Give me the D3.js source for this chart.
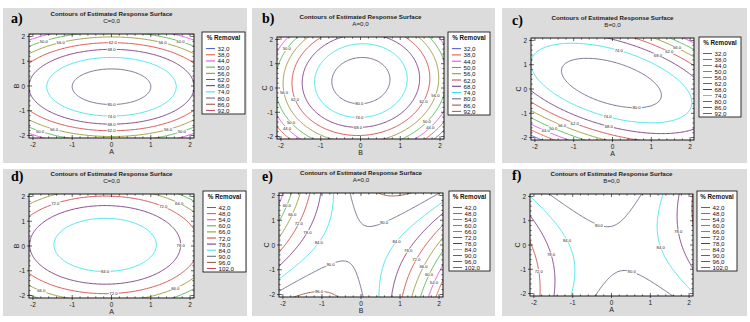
<!DOCTYPE html>
<html><head><meta charset="utf-8">
<script src="https://cdn.jsdelivr.net/npm/d3@7"></script>
<style>body{margin:0;background:#fff}svg{display:block}</style>
</head><body>
<svg id="chart" width="750" height="322"></svg>
<script>
// ---------- data ----------
const panelLetters = ['a)', 'b)', 'c)', 'd)', 'e)', 'f)'];
const chartTitle = 'Contours of Estimated Response Surface';
const subtitles = ['C=0,0', 'A=0,0', 'B=0,0', 'C=0,0', 'A=0,0', 'B=0,0'];
const xAxisNames = ['A', 'B', 'A', 'A', 'B', 'A'];
const yAxisNames = ['B', 'C', 'C', 'B', 'C', 'C'];
const tickValues = [-2, -1, 0, 1, 2];
const legendTitle = '% Removal';
const levelsSet1 = [32, 38, 44, 50, 56, 62, 68, 74, 80, 86, 92];
const levelsSet2 = [42, 48, 54, 60, 66, 72, 78, 84, 90, 96, 102];
// estimated response-surface coefficients: [b0, bx, by, bxx, byy, bxy]
const surfA = [83.5, 0.0, -0.4, -3.5, -6.8, 0.0];
const surfB = [83.5, 0.0, 2.6, -7.3, -4.3, 0.5];
const surfC = [83.5, 0.75, 2.25, -3.0, -4.8, -3.74];
const surfD = [89.0, -0.97, 0.4, -3.0, -4.4, 0.0];
const surfE = [89.0, -1.52, 0.54, -5.27, 0.64, 5.06];
const surfF = [89.0, 0.6, 0.51, -3.7, 1.03, -1.75];

// ---------- styles / layout ----------
const levelColors = ['#4a5ac8', '#e05030', '#e040e0', '#40b040', '#909020', '#d03838',
                     '#702878', '#30e0e8', '#606080', '#905030', '#c04060'];
const surfaces = [surfA, surfB, surfC, surfD, surfE, surfF];
const levelSets = [levelsSet1, levelsSet1, levelsSet1, levelsSet2, levelsSet2, levelsSet2];
const layout = [
  {bg: [3, 8, 247, 163],   frame: [29, 34, 194, 138],  legend: [202, 32, 245, 114], letter: [11, 23]},
  {bg: [252, 8, 495, 163], frame: [277, 37, 444, 139], legend: [448, 32, 490, 115], letter: [262, 23]},
  {bg: [502, 8, 747, 163], frame: [531, 38, 694, 140], legend: [699, 37, 741, 117], letter: [512, 25]},
  {bg: [3, 169, 247, 316], frame: [29, 194, 194, 298], legend: [203, 191, 246, 272], letter: [11, 181]},
  {bg: [252, 169, 495, 316], frame: [279, 193, 443, 297], legend: [449, 191, 490, 271], letter: [262, 181]},
  {bg: [502, 169, 747, 316], frame: [530, 194, 693, 296], legend: [697, 191, 737, 271], letter: [512, 180]}
];
const axisDomain = [-2.1, 2.1];
const FONT = '"Liberation Sans", Arial, sans-serif';

const svg = d3.select('#chart');
const fmtLegend = v => v.toFixed(1).replace('.', ',');
const fmtLabel = v => v.toFixed(1);

const N = 161, ext = [-2.6, 2.6];
const step = (ext[1] - ext[0]) / (N - 1);
const evalSurf = (c, u, v) => c[0] + c[1]*u + c[2]*v + c[3]*u*u + c[4]*v*v + c[5]*u*v;

layout.forEach((L, k) => {
  const g = svg.append('g');
  const [bx0, by0, bx1, by1] = L.bg;
  g.append('rect').attr('x', bx0).attr('y', by0).attr('width', bx1 - bx0).attr('height', by1 - by0)
    .attr('fill', '#dcdcdc');
  const [fx0, fy0, fx1, fy1] = L.frame;
  const x = d3.scaleLinear().domain(axisDomain).range([fx0, fx1]);
  const y = d3.scaleLinear().domain(axisDomain).range([fy1, fy0]);
  g.append('rect').attr('x', fx0).attr('y', fy0).attr('width', fx1 - fx0).attr('height', fy1 - fy0)
    .attr('fill', '#fff');

  const clipId = 'clip' + k;
  g.append('clipPath').attr('id', clipId).append('rect')
    .attr('x', fx0).attr('y', fy0).attr('width', fx1 - fx0).attr('height', fy1 - fy0);

  const coef = surfaces[k];
  const values = new Array(N * N);
  for (let j = 0; j < N; j++) for (let i = 0; i < N; i++)
    values[j * N + i] = evalSurf(coef, ext[0] + i * step, ext[0] + j * step);
  const levels = levelSets[k];
  const contours = d3.contours().size([N, N]).thresholds(levels)(values);
  const toScreen = ([gx, gy]) => [x(ext[0] + (gx - 0.5) * step), y(ext[0] + (gy - 0.5) * step)];

  const lineG = g.append('g').attr('clip-path', `url(#${clipId})`);
  const labelG = g.append('g');
  const inset = 4;
  const inside = p => p[0] > fx0 + inset && p[0] < fx1 - inset && p[1] > fy0 + inset && p[1] < fy1 - inset;

  contours.forEach(c => {
    const lvl = levels.indexOf(c.value);
    const col = levelColors[lvl];
    c.coordinates.forEach(poly => poly.forEach(ring => {
      const pts = ring.map(toScreen);
      lineG.append('path').attr('d', d3.line()(pts)).attr('fill', 'none')
        .attr('stroke', col).attr('stroke-width', 0.85);
      let runs = [];
      const outIdx = pts.findIndex(p => !inside(p));
      if (outIdx < 0) {
        runs.push({pts: pts, closed: true});
      } else {
        const rot = pts.slice(outIdx).concat(pts.slice(0, outIdx));
        let cur = [];
        rot.forEach(p => {
          if (inside(p)) cur.push(p);
          else { if (cur.length) runs.push({pts: cur, closed: false}); cur = []; }
        });
        if (cur.length) runs.push({pts: cur, closed: false});
      }
      runs.forEach(r => {
        let len = 0;
        const cum = [0];
        for (let i = 1; i < r.pts.length; i++) {
          len += Math.hypot(r.pts[i][0] - r.pts[i-1][0], r.pts[i][1] - r.pts[i-1][1]);
          cum.push(len);
        }
        if (len < 14) return;
        let p;
        if (r.closed) {
          let best = r.pts[0];
          r.pts.forEach(q => { if (q[1] > best[1]) best = q; });
          p = best;
        } else {
          const half = len / 2;
          const idx = cum.findIndex(v => v >= half);
          p = r.pts[Math.max(0, idx)];
        }
        const t = labelG.append('text').attr('x', p[0]).attr('y', p[1])
          .attr('text-anchor', 'middle').attr('dominant-baseline', 'central')
          .attr('font-family', FONT).attr('font-size', 4.2).attr('fill', '#222')
          .text(fmtLabel(c.value));
        const bb = t.node().getBBox();
        labelG.insert('rect', () => t.node()).attr('x', bb.x - 0.5).attr('y', bb.y + 0.5)
          .attr('width', bb.width + 1).attr('height', bb.height - 1).attr('fill', '#fff');
      });
    }));
  });

  g.append('rect').attr('x', fx0).attr('y', fy0).attr('width', fx1 - fx0).attr('height', fy1 - fy0)
    .attr('fill', 'none').attr('stroke', '#000').attr('stroke-width', 0.9);
  const minor = d3.range(-2, 2.001, 0.2);
  const tg = g.append('g').attr('stroke', '#000').attr('stroke-width', 0.6);
  minor.forEach(v => {
    const isMaj = Math.abs(v - Math.round(v)) < 1e-6;
    const len = isMaj ? 3 : 1.6;
    tg.append('line').attr('x1', x(v)).attr('x2', x(v)).attr('y1', fy1).attr('y2', fy1 - len);
    tg.append('line').attr('x1', x(v)).attr('x2', x(v)).attr('y1', fy0).attr('y2', fy0 + len);
    tg.append('line').attr('y1', y(v)).attr('y2', y(v)).attr('x1', fx0).attr('x2', fx0 + len);
    tg.append('line').attr('y1', y(v)).attr('y2', y(v)).attr('x1', fx1).attr('x2', fx1 - len);
  });
  tickValues.forEach(v => {
    tg.append('line').attr('x1', x(v)).attr('x2', x(v)).attr('y1', fy1).attr('y2', fy1 + 2);
    tg.append('line').attr('y1', y(v)).attr('y2', y(v)).attr('x1', fx0).attr('x2', fx0 - 2);
  });
  g.append('g').selectAll('text').data(tickValues).join('text')
    .attr('x', d => x(d)).attr('y', fy1 + 9).attr('text-anchor', 'middle')
    .attr('font-family', FONT).attr('font-size', 6.5).attr('fill', '#222').text(d => d);
  g.append('g').selectAll('text').data(tickValues).join('text')
    .attr('x', fx0 - 4).attr('y', d => y(d)).attr('text-anchor', 'end').attr('dominant-baseline', 'central')
    .attr('font-family', FONT).attr('font-size', 6.5).attr('fill', '#222').text(d => d);
  g.append('text').attr('x', (fx0 + fx1) / 2).attr('y', fy1 + 16).attr('text-anchor', 'middle')
    .attr('font-family', FONT).attr('font-size', 7).attr('fill', '#222').text(xAxisNames[k]);
  g.append('text').attr('transform', `translate(${fx0 - 13},${(fy0 + fy1) / 2}) rotate(-90)`)
    .attr('text-anchor', 'middle').attr('dominant-baseline', 'central')
    .attr('font-family', FONT).attr('font-size', 7).attr('fill', '#222').text(yAxisNames[k]);
  const cx = (fx0 + fx1) / 2;
  g.append('text').attr('x', cx).attr('y', fy0 - 18).attr('text-anchor', 'middle')
    .attr('font-family', FONT).attr('font-size', 6.2).attr('font-weight', 'bold').attr('fill', '#222')
    .text(chartTitle);
  g.append('text').attr('x', cx).attr('y', fy0 - 11).attr('text-anchor', 'middle')
    .attr('font-family', FONT).attr('font-size', 6.2).attr('fill', '#222').text(subtitles[k]);
  g.append('text').attr('x', L.letter[0]).attr('y', L.letter[1])
    .attr('font-family', '"Liberation Serif", "Times New Roman", serif').attr('font-size', 14)
    .attr('font-weight', 'bold').attr('fill', '#000').text(panelLetters[k]);
  const [lx0, ly0, lx1, ly1] = L.legend;
  g.append('rect').attr('x', lx0).attr('y', ly0).attr('width', lx1 - lx0).attr('height', ly1 - ly0)
    .attr('fill', '#fff').attr('stroke', '#000').attr('stroke-width', 0.8);
  g.append('text').attr('x', (lx0 + lx1) / 2).attr('y', ly0 + 7.5).attr('text-anchor', 'middle')
    .attr('font-family', FONT).attr('font-size', 6.3).attr('font-weight', 'bold').attr('fill', '#111')
    .text(legendTitle);
  const rowH = (ly1 - ly0 - 14) / levels.length;
  levels.forEach((v, i) => {
    const yy = ly0 + 13.5 + rowH * (i + 0.5);
    g.append('line').attr('x1', lx0 + 4).attr('x2', lx0 + 13).attr('y1', yy).attr('y2', yy)
      .attr('stroke', levelColors[i]).attr('stroke-width', 1);
    g.append('text').attr('x', lx0 + 15.5).attr('y', yy).attr('dominant-baseline', 'central')
      .attr('font-family', FONT).attr('font-size', 6.2).attr('fill', '#111').text(fmtLegend(v));
  });
});
</script>
</body></html>
